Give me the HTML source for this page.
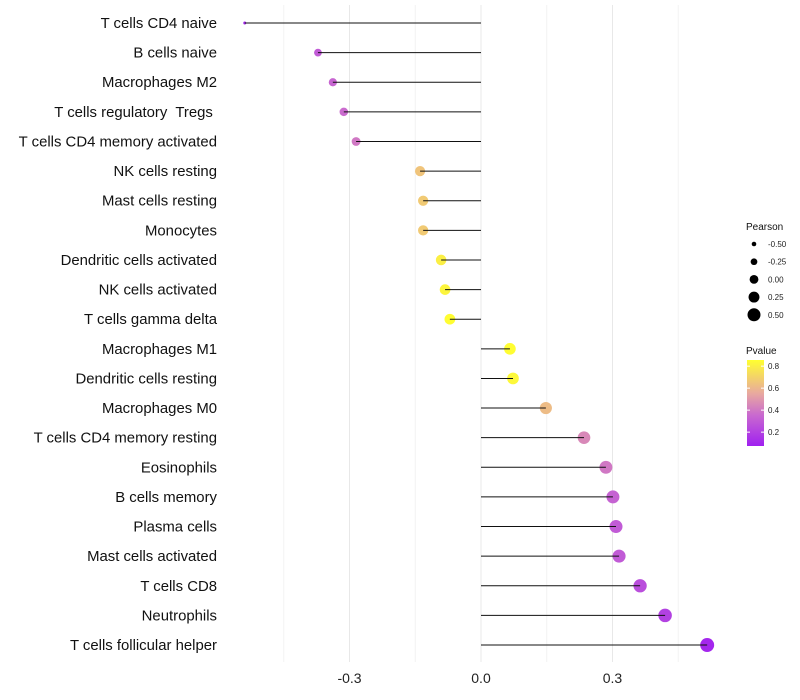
<!DOCTYPE html>
<html><head><meta charset="utf-8"><style>body{margin:0;background:#fff}svg{display:block;font-family:"Liberation Sans",sans-serif}text{white-space:pre}</style></head>
<body>
<svg id="chart" width="800" height="700" xmlns="http://www.w3.org/2000/svg"></svg>
<script>
const categories=["T cells CD4 naive","B cells naive","Macrophages M2","T cells regulatory  Tregs ","T cells CD4 memory activated","NK cells resting","Mast cells resting","Monocytes","Dendritic cells activated","NK cells activated","T cells gamma delta","Macrophages M1","Dendritic cells resting","Macrophages M0","T cells CD4 memory resting","Eosinophils","B cells memory","Plasma cells","Mast cells activated","T cells CD8","Neutrophils","T cells follicular helper"];
const pearson=[-0.539,-0.372,-0.338,-0.313,-0.285,-0.139,-0.132,-0.132,-0.091,-0.082,-0.071,0.066,0.073,0.148,0.235,0.285,0.301,0.308,0.315,0.363,0.420,0.516];
const pvalue=[0.1,0.3,0.34,0.36,0.4,0.65,0.67,0.67,0.8,0.82,0.85,0.85,0.83,0.62,0.45,0.4,0.33,0.3,0.3,0.25,0.2,0.1];
const xTicks=[-0.3,0.0,0.3];
const xMinor=[-0.45,-0.15,0.15,0.45];
const sizeLegend=[-0.5,-0.25,0,0.25,0.5];
const pTicks=[0.8,0.6,0.4,0.2];

const NS="http://www.w3.org/2000/svg";
const svg=document.getElementById('chart');
function el(t,a,p){const e=document.createElementNS(NS,t);for(const k in a)e.setAttribute(k,a[k]);(p||svg).appendChild(e);return e;}
const xs=v=>481+v*438.3;
const ys=i=>23+i*29.62;
const rs=v=>{const t=Math.max(0,Math.min(1,(v+0.539)/1.055));return Math.sqrt(2.25+Math.pow(t,0.7)*46.75);};
function hex(c){return [parseInt(c.substr(1,2),16),parseInt(c.substr(3,2),16),parseInt(c.substr(5,2),16)];}
const stops=[[0.074,"#A020F0"],[0.35,"#C868D0"],[0.55,"#E8A8A0"],[0.856,"#FFFF30"]];
function col(p){if(p<=stops[0][0])return stops[0][1];for(let i=1;i<stops.length;i++){if(p<=stops[i][0]){const t=(p-stops[i-1][0])/(stops[i][0]-stops[i-1][0]);const a=hex(stops[i-1][1]),b=hex(stops[i][1]);return `rgb(${a.map((v,k)=>Math.round(v+(b[k]-v)*t)).join(',')})`;}}return stops[stops.length-1][1];}

xMinor.forEach(v=>{const l=el('line',{x1:xs(v),x2:xs(v),y1:5,y2:662,stroke:'#f2f2f2','stroke-width':1});

});
xTicks.forEach(v=>{const l=el('line',{x1:xs(v),x2:xs(v),y1:5,y2:662,stroke:'#e8e8e8','stroke-width':1});


const t=el('text',{x:xs(v),y:683,'text-anchor':'middle','font-size':14,fill:'#222'});t.textContent=v===0?'0.0':v.toFixed(1);

});

categories.forEach((c,i)=>{
const t=el('text',{x:217,y:ys(i)+5,'text-anchor':'end','font-size':14.9,fill:'#111'});t.textContent=c;


const d=el('circle',{cx:xs(pearson[i]),cy:ys(i),r:rs(pearson[i]),fill:col(pvalue[i])});


const l=el('line',{x1:xs(0),x2:xs(pearson[i]),y1:ys(i),y2:ys(i),stroke:'#111','stroke-width':1});


});

const lt=el('text',{x:746,y:230,'font-size':10,fill:'#111'});lt.textContent='Pearson';


sizeLegend.forEach((v,i)=>{const y=244+i*17.7;
const c=el('circle',{cx:754,cy:y,r:2.3+(v+0.5)*4.2,fill:'#000'});


const t=el('text',{x:768,y:y+3,'font-size':8,fill:'#222'});t.textContent=v.toFixed(2);

});
const pt=el('text',{x:746,y:354,'font-size':10,fill:'#111'});pt.textContent='Pvalue';


const defs=el('defs',{});const g=el('linearGradient',{id:'pg',x1:0,y1:1,x2:0,y2:0},defs);
stops.forEach(s=>el('stop',{offset:((s[0]-0.074)/(0.856-0.074)),'stop-color':s[1]},g));
const bar=el('rect',{x:747,y:360,width:17,height:86,fill:'url(#pg)'});


pTicks.forEach(p=>{const y=446-(p-0.074)/(0.782)*86;
el('line',{x1:747,x2:750,y1:y,y2:y,stroke:'#fff'});el('line',{x1:761,x2:764,y1:y,y2:y,stroke:'#fff'});
const t=el('text',{x:768,y:y+3,'font-size':8,fill:'#222'});t.textContent=p.toFixed(1);

});
</script>
</body></html>
